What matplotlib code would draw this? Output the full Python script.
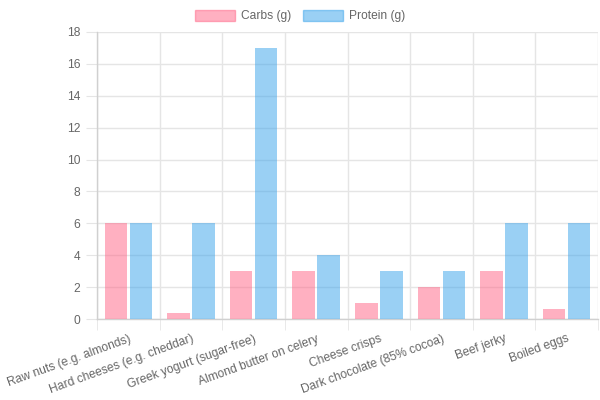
import matplotlib
matplotlib.use("Agg")
import matplotlib.pyplot as plt
import numpy as np
from matplotlib.patches import Patch

categories = ["Raw nuts (e.g. almonds)", "Hard cheeses (e.g. cheddar)", "Greek yogurt (sugar-free)",
              "Almond butter on celery", "Cheese crisps", "Dark chocolate (85% cocoa)",
              "Beef jerky", "Boiled eggs"]
carbs = [6, 0.4, 3, 3, 1, 2, 3, 0.6]
protein = [6, 6, 17, 4, 3, 3, 6, 6]
yticks = [0, 2, 4, 6, 8, 10, 12, 14, 16, 18]

plt.rcParams['font.family'] = ['Liberation Sans', 'DejaVu Sans']
fs = 8.64
tc = '#666666'
grid_c = '#e5e5e5'

fig = plt.figure(figsize=(6, 4), dpi=100)
ax = fig.add_axes([97/600, 81/400, 501/600, 287/400])

x = np.arange(len(categories))
bw = 0.8 / 2 * 0.9
pink_f = (1.0, 99/255, 132/255, 0.5)
blue_f = (54/255, 162/255, 235/255, 0.5)
ax.bar(x - 0.2, carbs, width=bw, color=pink_f, linewidth=0, zorder=3)
ax.bar(x + 0.2, protein, width=bw, color=blue_f, linewidth=0, zorder=3)

ax.set_xlim(-0.5, len(categories) - 0.5)
ax.set_ylim(0, 18)
ax.set_yticks(yticks)
ax.set_yticklabels([str(v) for v in yticks], fontsize=fs, color=tc)
ax.set_xticks(x)
ax.set_xticklabels(categories, rotation=20, ha='right', rotation_mode='anchor', fontsize=fs, color=tc)
ax.tick_params(axis='x', length=0, pad=10)
ax.tick_params(axis='y', length=8, color=grid_c, pad=4)
ax.set_xticks(np.arange(len(categories) + 1) - 0.5, minor=True)
ax.tick_params(axis='x', which='minor', length=8, color=grid_c)
ax.grid(axis='y', color=grid_c, linewidth=1, zorder=0)
ax.grid(axis='x', which='minor', color=grid_c, linewidth=1, zorder=0)
for s in ['top', 'right']:
    ax.spines[s].set_visible(False)
for s in ['left', 'bottom']:
    ax.spines[s].set_color('#d0d0d0')
    ax.spines[s].set_linewidth(1)

handles = [Patch(facecolor=pink_f, edgecolor=pink_f, linewidth=1),
           Patch(facecolor=blue_f, edgecolor=blue_f, linewidth=1)]
leg = fig.legend(handles, ["Carbs (g)", "Protein (g)"], loc='center', bbox_to_anchor=(0.5, 1 - 16/400),
                 ncol=2, frameon=False, fontsize=fs, handlelength=3.33, handleheight=1.0,
                 handletextpad=0.5, columnspacing=1.0, labelcolor=tc)

fig.savefig("out.png", dpi=100)
